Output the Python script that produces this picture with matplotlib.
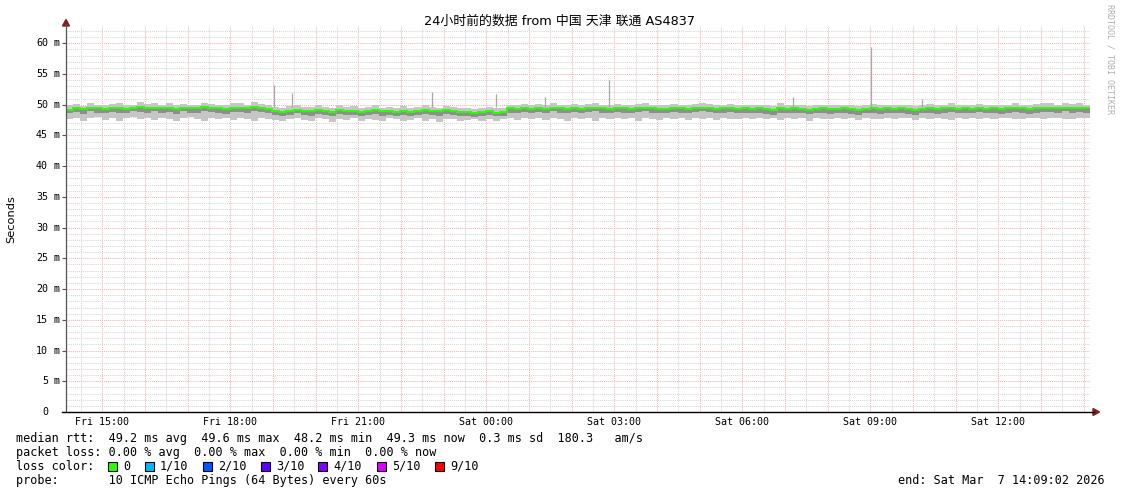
import numpy as np
import pandas as pd
import matplotlib
matplotlib.use('Agg')
import matplotlib.pyplot as plt
import matplotlib.dates as mdates
import matplotlib.transforms as mtrans
from matplotlib.ticker import MultipleLocator, FuncFormatter, NullFormatter
from matplotlib.lines import Line2D
from matplotlib.patches import Rectangle, Polygon
import datetime as dt

# ---------------- data ----------------
start = dt.datetime(2026, 3, 6, 14, 9, 2)
end = dt.datetime(2026, 3, 7, 14, 9, 2)

# 10-minute consolidated samples (ms), 6 per hour, starting Fri 14:09
median_ms = [
    49.2, 49.4, 49.3, 49.5, 49.4, 49.3,
    49.4, 49.5, 49.3, 49.4, 49.6, 49.4,
    49.5, 49.4, 49.5, 49.3, 49.5, 49.4,
    49.4, 49.6, 49.5, 49.4, 49.3, 49.5,
    49.5, 49.4, 49.6, 49.5, 49.3, 48.9,
    48.8, 48.9, 49.2, 49.0, 48.9, 49.1,
    49.0, 48.8, 49.1, 48.9, 49.0, 48.8,
    48.9, 49.1, 48.9, 49.0, 48.8, 49.0,
    48.8, 49.0, 49.1, 48.9, 48.9, 49.1,
    48.9, 48.8, 48.8, 48.7, 48.8, 48.9,
    48.7, 48.8, 49.4, 49.3, 49.4, 49.3,
    49.4, 49.3, 49.5, 49.4, 49.3, 49.4,
    49.3, 49.4, 49.5, 49.4, 49.3, 49.4,
    49.4, 49.3, 49.4, 49.5, 49.4, 49.3,
    49.3, 49.4, 49.4, 49.3, 49.4, 49.5,
    49.4, 49.3, 49.4, 49.4, 49.3, 49.4,
    49.3, 49.4, 49.3, 49.2, 49.4, 49.3,
    49.4, 49.3, 49.2, 49.3, 49.4, 49.3,
    49.3, 49.4, 49.3, 49.2, 49.3, 49.4,
    49.3, 49.4, 49.3, 49.4, 49.3, 49.2,
    49.3, 49.4, 49.3, 49.4, 49.5, 49.3,
    49.4, 49.3, 49.4, 49.3, 49.4, 49.3,
    49.4, 49.5, 49.4, 49.3, 49.4, 49.5,
    49.5, 49.4, 49.5, 49.4, 49.5, 49.4,
]
min_ms = [
    47.6, 47.9, 47.4, 47.8, 48.0, 47.5,
    47.8, 47.3, 47.9, 48.0, 47.6, 47.8,
    47.5, 47.9, 47.7, 47.3, 47.8, 48.0,
    47.7, 47.4, 47.9, 47.6, 47.8, 47.5,
    47.9, 47.6, 47.3, 47.8, 47.7, 47.5,
    47.4, 47.7, 47.9, 47.5, 47.3, 47.8,
    47.6, 47.2, 47.7, 47.5, 47.8, 47.4,
    47.7, 47.5, 47.3, 47.8, 47.6, 47.4,
    47.5, 47.8, 47.4, 47.6, 47.2, 47.7,
    47.6, 47.3, 47.5, 47.7, 47.4, 47.6,
    47.3, 47.6, 47.8, 47.5, 47.9, 47.7,
    47.8, 47.5, 47.9, 47.6, 47.4, 47.8,
    47.7, 47.9, 47.4, 47.8, 47.6, 47.9,
    47.6, 47.8, 47.3, 47.9, 47.7, 47.5,
    47.9, 47.6, 47.8, 47.5, 47.9, 47.7,
    47.8, 47.5, 47.9, 47.7, 47.6, 47.8,
    47.7, 47.9, 47.6, 47.8, 47.5, 47.9,
    47.6, 47.8, 47.4, 47.9, 47.7, 47.6,
    47.9, 47.7, 47.8, 47.5, 47.8, 47.6,
    47.7, 47.9, 47.6, 47.8, 47.9, 47.5,
    47.8, 47.6, 47.9, 47.7, 47.5, 47.8,
    47.6, 47.8, 47.7, 47.9, 47.6, 47.8,
    47.9, 47.7, 47.6, 47.8, 47.9, 47.7,
    47.8, 47.9, 47.7, 47.6, 47.8, 47.9,
]
q1_ms = [
    48.6, 48.8, 48.5, 48.9, 48.7, 48.6,
    48.8, 48.6, 48.7, 48.9, 48.8, 48.6,
    48.9, 48.7, 48.8, 48.5, 48.9, 48.7,
    48.7, 48.9, 48.8, 48.6, 48.5, 48.8,
    48.8, 48.6, 48.9, 48.8, 48.6, 48.3,
    48.2, 48.4, 48.6, 48.3, 48.2, 48.5,
    48.4, 48.1, 48.5, 48.3, 48.4, 48.2,
    48.3, 48.5, 48.2, 48.4, 48.1, 48.4,
    48.2, 48.4, 48.5, 48.3, 48.2, 48.5,
    48.3, 48.1, 48.2, 48.0, 48.2, 48.3,
    48.1, 48.2, 48.7, 48.6, 48.8, 48.6,
    48.8, 48.6, 48.9, 48.7, 48.6, 48.8,
    48.6, 48.8, 48.9, 48.7, 48.6, 48.8,
    48.7, 48.6, 48.8, 48.9, 48.7, 48.6,
    48.6, 48.8, 48.7, 48.6, 48.8, 48.9,
    48.8, 48.6, 48.7, 48.8, 48.6, 48.7,
    48.6, 48.7, 48.5, 48.4, 48.7, 48.6,
    48.7, 48.6, 48.5, 48.6, 48.7, 48.5,
    48.6, 48.7, 48.5, 48.4, 48.6, 48.7,
    48.5, 48.7, 48.6, 48.7, 48.5, 48.4,
    48.6, 48.7, 48.5, 48.7, 48.8, 48.6,
    48.7, 48.6, 48.8, 48.6, 48.7, 48.5,
    48.7, 48.8, 48.6, 48.5, 48.7, 48.8,
    48.8, 48.7, 48.9, 48.7, 48.8, 48.6,
]
max_ms = [
    49.9, 50.1, 49.8, 50.2, 50.0, 49.9,
    50.1, 50.3, 49.9, 50.0, 50.4, 50.1,
    50.2, 50.0, 50.3, 49.9, 50.1, 50.0,
    50.0, 50.3, 50.1, 50.0, 49.9, 50.2,
    50.2, 50.0, 50.4, 50.1, 49.9, 49.6,
    49.5, 49.8, 50.0, 49.7, 49.6, 49.9,
    49.7, 49.5, 49.9, 49.6, 49.8, 49.5,
    49.6, 49.9, 49.5, 49.7, 49.4, 49.8,
    49.5, 49.7, 49.9, 49.6, 49.5, 49.8,
    49.6, 49.4, 49.5, 49.3, 49.5, 49.6,
    49.4, 49.5, 50.0, 49.9, 50.1, 49.9,
    50.1, 49.9, 50.2, 50.0, 49.9, 50.1,
    49.9, 50.1, 50.2, 50.0, 49.9, 50.1,
    50.0, 49.9, 50.1, 50.2, 50.0, 49.9,
    49.9, 50.1, 50.0, 49.9, 50.1, 50.2,
    50.1, 49.9, 50.0, 50.1, 49.9, 50.0,
    49.9, 50.0, 49.9, 49.8, 50.2, 49.9,
    50.0, 49.9, 49.8, 49.9, 50.0, 49.9,
    49.9, 50.0, 49.9, 49.8, 49.9, 50.1,
    49.9, 50.0, 49.9, 50.0, 49.9, 49.8,
    49.9, 50.1, 49.9, 50.0, 50.2, 49.9,
    50.0, 49.9, 50.1, 49.9, 50.0, 49.9,
    50.0, 50.2, 50.0, 49.9, 50.1, 50.2,
    50.2, 50.0, 50.3, 50.1, 50.2, 50.0,
]
spike_times = ['2026-03-06 19:01', '2026-03-06 19:27', '2026-03-06 22:44',
               '2026-03-07 00:14', '2026-03-07 01:23', '2026-03-07 02:53',
               '2026-03-07 07:11', '2026-03-07 09:01', '2026-03-07 10:13']
spike_ms = [53.2, 51.9, 52.0, 51.7, 51.3, 54.0, 51.3, 59.4, 51.0]

title = '24小时前的数据 from 中国 天津 联通 AS4837'
legend_rtt = 'median rtt:  49.2 ms avg  49.6 ms max  48.2 ms min  49.3 ms now  0.3 ms sd  180.3   am/s'
legend_loss = 'packet loss: 0.00 % avg  0.00 % max  0.00 % min  0.00 % now'
legend_probe = 'probe:       10 ICMP Echo Pings (64 Bytes) every 60s'
end_text = 'end: Sat Mar  7 14:09:02 2026'
loss_labels = ['0', '1/10', '2/10', '3/10', '4/10', '5/10', '9/10']
loss_colors = ['#26ff00', '#00b8ff', '#0059ff', '#5e00ff', '#7e00ff', '#dd00ff', '#ff0000']

# ---------------- figure ----------------
W, H = 1121, 494
plt.rcParams['font.family'] = 'DejaVu Sans Mono'
fig = plt.figure(figsize=(W / 100, H / 100), dpi=100)
fig.patch.set_facecolor('white')


def fx(x):
    return x / W


def fy(y):
    return 1 - y / H


ax_left, ax_right, ax_top, ax_bottom = 66, 1090, 26, 412
ax = fig.add_axes([fx(ax_left), fy(ax_bottom), (ax_right - ax_left) / W, (ax_bottom - ax_top) / H])
ax.set_facecolor('white')

edges = mdates.date2num(pd.date_range(start, end, periods=len(median_ms) + 1).to_pydatetime())
ax.stairs(max_ms, edges, baseline=min_ms, fill=True, color='#c6c6c6', lw=0, zorder=2)
ax.stairs(median_ms, edges, baseline=q1_ms, fill=True, color='#8e8e8e', lw=0, zorder=3)
st = mdates.date2num(pd.to_datetime(spike_times).to_pydatetime())
ax.vlines(st, 49.6, spike_ms, color='#a8a8a8', lw=0.9, zorder=3)
ax.stairs(median_ms, edges, baseline=None, color='#26ff00', lw=1.4, zorder=4)

ax.set_xlim(mdates.date2num(start), mdates.date2num(end))
ax.set_ylim(0, 62.8)

ax.xaxis.set_major_locator(mdates.HourLocator(interval=1))
ax.xaxis.set_minor_locator(mdates.MinuteLocator(byminute=[30]))


def xfmt(x, pos):
    d = mdates.num2date(x)
    return d.strftime('%a %H:%M') if d.hour % 3 == 0 and d.minute == 0 else ''


ax.xaxis.set_major_formatter(FuncFormatter(xfmt))
ax.yaxis.set_major_locator(MultipleLocator(5))
ax.yaxis.set_minor_locator(MultipleLocator(1))
ax.yaxis.set_major_formatter(NullFormatter())

dots = (0, (1, 1))
ax.grid(which='major', color='#f2b4b4', linestyle=dots, linewidth=0.75, zorder=1)
ax.grid(which='minor', color='#d6d6d6', linestyle=dots, linewidth=0.75, zorder=1)
ax.set_axisbelow(True)

ax.tick_params(axis='x', which='both', length=0, pad=3.5, labelsize=7.2)
ax.tick_params(axis='y', which='major', length=3, color='#555555', width=0.8)
ax.tick_params(axis='y', which='minor', length=0)
for s in ax.spines.values():
    s.set_visible(False)

# y tick labels
blend = mtrans.blended_transform_factory(ax.transAxes, ax.transData)
for v in range(0, 61, 5):
    ax.text((48 - ax_left) / (ax_right - ax_left), v, f'{v}', transform=blend,
            ha='right', va='center', fontsize=7.2, clip_on=False)
    if v != 0:
        ax.text((54 - ax_left) / (ax_right - ax_left), v, 'm', transform=blend,
                ha='left', va='center', fontsize=7.2, clip_on=False)

# axis lines and arrows
fig.add_artist(Line2D([fx(66), fx(66)], [fy(412), fy(24)], color='#555555', lw=0.9))
fig.add_artist(Line2D([fx(62), fx(1094)], [fy(412), fy(412)], color='black', lw=1.0))
fig.add_artist(Polygon([(fx(62.5), fy(26)), (fx(69.5), fy(26)), (fx(66), fy(19.5))],
                       closed=True, color='#7f1f1f', transform=fig.transFigure))
fig.add_artist(Polygon([(fx(1093), fy(408.5)), (fx(1093), fy(415.5)), (fx(1099.5), fy(412))],
                       closed=True, color='#7f1f1f', transform=fig.transFigure))

# texts
fig.text(fx(560), fy(21), title, ha='center', va='center', fontsize=9.3,
         family=['DejaVu Sans', 'Noto Sans CJK SC'])
fig.text(fx(11), fy(219), 'Seconds', rotation=90, ha='center', va='center',
         fontsize=8.2, family='DejaVu Sans')
fig.text(fx(1110), fy(59), 'RRDTOOL / TOBI OETIKER', rotation=270, ha='center',
         va='center', fontsize=6, color='#b0b0b0')

fs = 8.5
fig.text(fx(16), fy(438), legend_rtt, ha='left', va='center', fontsize=fs)
fig.text(fx(16), fy(452), legend_loss, ha='left', va='center', fontsize=fs)
fig.text(fx(16), fy(466), 'loss color:', ha='left', va='center', fontsize=fs)
box_x = [108, 145, 203, 261, 318, 377, 435]
for bx, lab, col in zip(box_x, loss_labels, loss_colors):
    fig.add_artist(Rectangle((fx(bx), fy(470.5)), 9 / W, 9 / H, facecolor=col,
                             edgecolor='black', lw=0.8, transform=fig.transFigure))
    fig.text(fx(bx + 15), fy(466), lab, ha='left', va='center', fontsize=fs)
fig.text(fx(16), fy(480), legend_probe, ha='left', va='center', fontsize=fs)
fig.text(fx(1105), fy(480), end_text, ha='right', va='center', fontsize=fs)

fig.savefig('out.png', dpi=100, facecolor='white')
